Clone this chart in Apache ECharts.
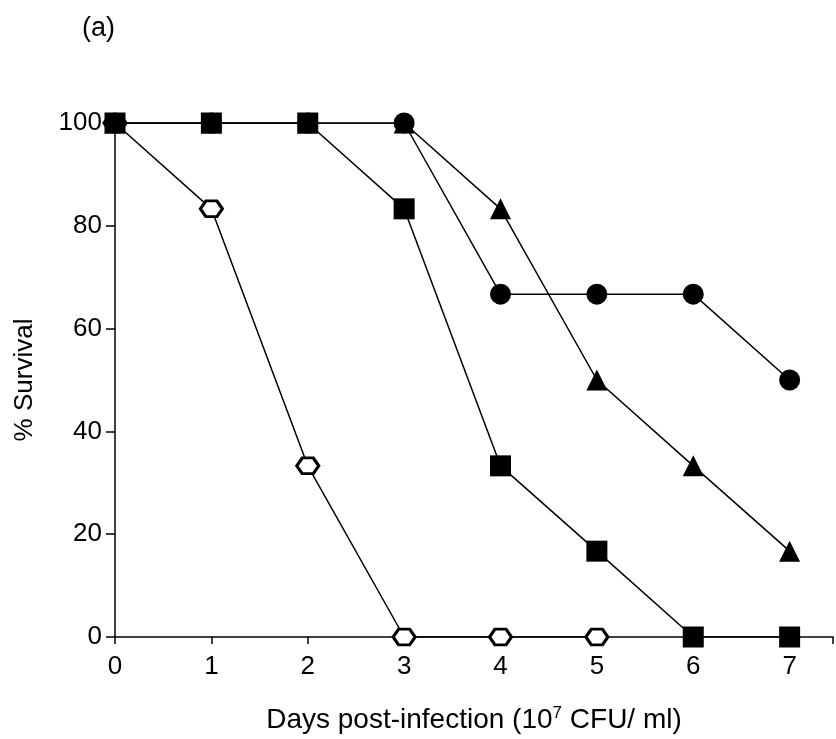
<!DOCTYPE html>
<html>
<head>
<meta charset="utf-8">
<script src="https://cdn.jsdelivr.net/npm/echarts@6/dist/echarts.min.js"></script>
<style>
  html, body { margin: 0; padding: 0; background: #fff; }
  #chart { width: 836px; height: 739px; }
</style>
</head>
<body>
<div id="chart"></div>
<script>
// Days after infection
const days = [0, 1, 2, 3, 4, 5, 6, 7];
// Percent survival per group
const hexSurvival = [100, 83.3, 33.3, 0, 0, 0, null, null];
const triangleSurvival = [100, 100, 100, 100, 83.3, 50, 33.3, 16.7];
const circleSurvival = [100, 100, 100, 100, 66.7, 66.7, 66.7, 50];
const squareSurvival = [100, 100, 100, 83.3, 33.3, 16.7, 0, 0];
const yTicks = [0, 20, 40, 60, 80, 100];

const pairs = arr => days.map((d, i) => [d, arr[i]]).filter(p => p[1] !== null);

// open hexagon with points left and right
const hexPath = 'path://M0,7 L4,0 L12,0 L16,7 L12,14 L4,14 Z';
const font = '"Liberation Sans", Arial, sans-serif';
const fs = 26;

const chart = echarts.init(document.getElementById('chart'));

function series(name, data, symbol, size, fill, borderWidth) {
  return {
    name, type: 'line', data: pairs(data),
    symbol, symbolSize: size, symbolKeepAspect: true,
    showAllSymbol: true,
    lineStyle: { color: '#000', width: 1.5 },
    itemStyle: { color: fill, borderColor: '#000', borderWidth: borderWidth },
    emphasis: { disabled: true },
    animation: false,
    z: 3
  };
}

chart.setOption({
  backgroundColor: '#fff',
  animation: false,
  title: {
    text: '(a)', left: 77, top: 10,
    textStyle: { fontFamily: font, fontSize: 27, fontWeight: 'normal', color: '#000' }
  },
  grid: { left: 115, right: 0, top: 123, bottom: 102, containLabel: false },
  xAxis: {
    type: 'value', min: 0, max: 7.45, interval: 1,
    name: 'Days post-infection (10{sup|7} CFU/ ml)',
    nameLocation: 'middle', nameGap: 68,
    nameTextStyle: {
      fontFamily: font, fontSize: 28, color: '#000',
      rich: { sup: { fontFamily: font, fontSize: 17, color: '#000', verticalAlign: 'top', padding: [0, 0, 13, 0] } }
    },
    axisLine: { lineStyle: { color: '#000', width: 1.5 } },
    axisTick: { length: 7, lineStyle: { color: '#000', width: 1.5 } },
    axisLabel: {
      fontFamily: font, fontSize: fs, color: '#000', margin: 17,
      formatter: v => (Number.isInteger(v) && days.includes(v)) ? String(v) : ''
    },
    splitLine: { show: false }
  },
  yAxis: {
    type: 'value', min: yTicks[0], max: yTicks[yTicks.length - 1], interval: 20,
    name: '% Survival', nameLocation: 'middle', nameGap: 77, nameRotate: 90,
    nameTextStyle: { fontFamily: font, fontSize: fs, color: '#000' },
    axisLine: { show: true, lineStyle: { color: '#000', width: 1.5 } },
    axisTick: { show: true, length: 9, lineStyle: { color: '#000', width: 1.5 } },
    axisLabel: { fontFamily: font, fontSize: fs, color: '#000', margin: 13 },
    splitLine: { show: false }
  },
  series: [
    series('hexagon', hexSurvival, hexPath, [22, 18], '#fff', 3),
    series('triangle', triangleSurvival, 'triangle', 21, '#000', 0),
    series('circle', circleSurvival, 'circle', 21, '#000', 0),
    series('square', squareSurvival, 'rect', 21, '#000', 0)
  ]
});
</script>
</body>
</html>
